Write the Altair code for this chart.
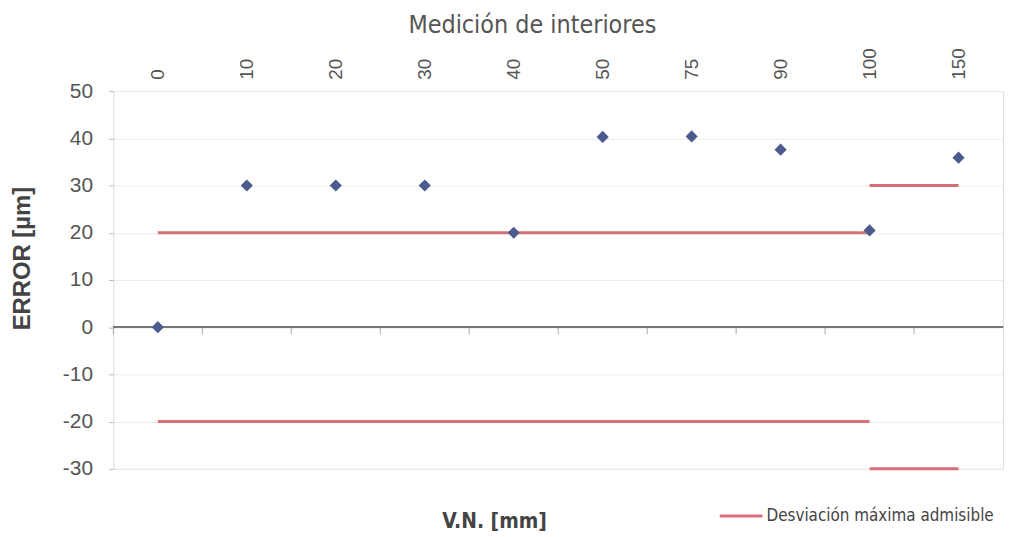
import altair as alt
import pandas as pd

# Categories (V.N. [mm]) and measured errors [µm]
categorias = ["0", "10", "20", "30", "40", "50", "75", "90", "100", "150"]
errores = [0, 30, 30, 30, 20, 40.3, 40.4, 37.6, 20.5, 35.9]

# Maximum admissible deviation (two segments, upper and lower)
lim_tramo = ["A", "A", "B", "B"]
lim_x = ["0", "100", "100", "150"]
lim_sup = [20, 20, 30, 30]
lim_inf = [-20, -20, -30, -30]
serie_lim = "Desviación máxima admisible"

df_pts = pd.DataFrame({"vn": categorias, "error": errores})

rows = []
for t, x, s, i in zip(lim_tramo, lim_x, lim_sup, lim_inf):
    rows.append({"vn": x, "valor": s, "grp": t + "_sup", "serie": serie_lim})
    rows.append({"vn": x, "valor": i, "grp": t + "_inf", "serie": serie_lim})
df_lim = pd.DataFrame(rows)

df_ticks = pd.DataFrame({"vn": categorias})

FONT = "Liberation Sans, Arial, sans-serif"
NARROW = "DejaVu Sans Condensed, Liberation Sans, sans-serif"

xscale = alt.Scale(domain=categorias, paddingInner=0, paddingOuter=0)
yscale = alt.Scale(domain=[-30, 50], nice=False, zero=False)

yaxis = alt.Axis(
    values=list(range(-30, 51, 10)), title="ERROR [µm]", labelExpr="datum.value",
    titleFont=FONT, titleFontSize=24, titleFontWeight="bold", titleColor="#444",
    titlePadding=28, titleY=168,
    labelFont=FONT, labelFontSize=21, labelColor="#555", labelPadding=16,
    tickSize=5, tickColor="#bbb", domain=False,
    grid=True, gridColor="#ececec", gridWidth=1,
)

lines = alt.Chart(df_lim).mark_line(strokeWidth=3, opacity=0.9).encode(
    x=alt.X("vn:N", sort=categorias, scale=xscale,
            axis=alt.Axis(orient="bottom", title="V.N. [mm]", labels=False, ticks=False,
                          domain=False, grid=False, titleFont=NARROW, titleFontSize=21,
                          titleFontWeight="bold", titleColor="#444", titlePadding=42,
                          titleX=383)),
    y=alt.Y("valor:Q", scale=yscale, axis=yaxis),
    detail="grp:N",
    color=alt.Color("serie:N", scale=alt.Scale(range=["#d4606c"]),
                    legend=alt.Legend(title=None, orient="none", legendX=608, legendY=404,
                                      symbolType="stroke", symbolStrokeWidth=3,
                                      symbolSize=1850, labelFont=NARROW, labelFontSize=17,
                                      labelColor="#444", labelOffset=2, labelLimit=0)),
)

zero = alt.Chart(df_ticks).mark_rule(color="#777", strokeWidth=1.5).encode(
    y=alt.datum(0)
)

ticks = alt.Chart(df_ticks).mark_tick(color="#888", thickness=1, size=7, orient="vertical",
                                      yOffset=3.5).encode(
    x=alt.X("vn:N", sort=categorias, scale=xscale, bandPosition=0, axis=None),
    y=alt.datum(0),
)

points = alt.Chart(df_pts).mark_point(shape="diamond", filled=True, size=150,
                                      color="#4b5b8e", opacity=1).encode(
    x=alt.X("vn:N", sort=categorias, scale=xscale,
            axis=alt.Axis(orient="top", title=None, labelAngle=270, labelFont=FONT,
                          labelFontSize=19, labelColor="#555", labelPadding=12,
                          ticks=False, domain=False, grid=False)),
    y=alt.Y("error:Q", scale=yscale, axis=yaxis),
)

chart = alt.layer(lines, zero, ticks, points).resolve_axis(x="independent").properties(
    width=895, height=380,
    padding={"left": 2, "top": 3, "right": 5, "bottom": 5},
    title=alt.TitleParams("Medición de interiores", font=NARROW, fontSize=25,
                          fontWeight="normal", color="#555", offset=10, dx=-26),
).configure_view(stroke="#999", strokeWidth=1.5).configure(background="white")

chart.save("out.html", embed_options={"renderer": "svg", "actions": False})
